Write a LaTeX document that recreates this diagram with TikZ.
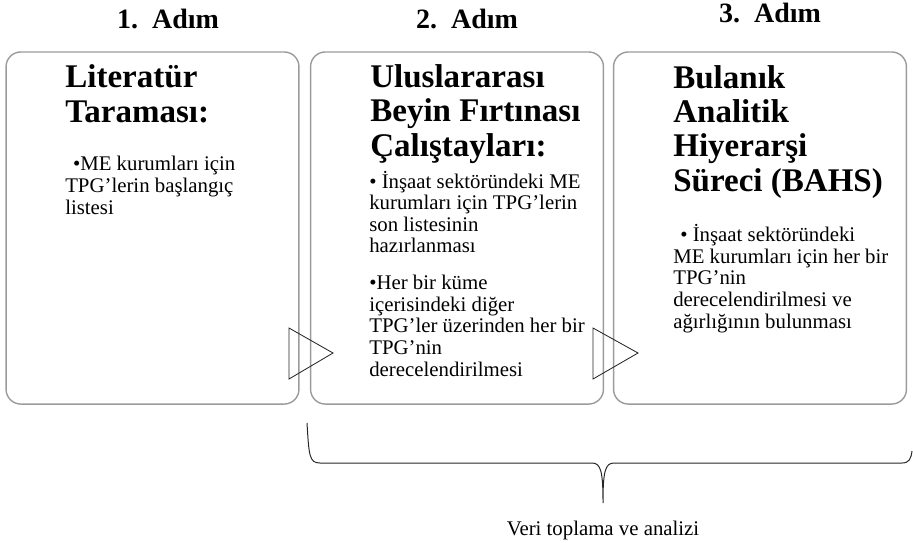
\documentclass[tikz,border=0pt]{standalone}
\usepackage{fontspec}
\setmainfont{Liberation Serif}
\usetikzlibrary{positioning}

\definecolor{boxgray}{RGB}{155,155,155}
\newcommand{\stepfont}{\bfseries\fontsize{19.9}{21}\selectfont}
\newcommand{\headfont}{\bfseries\fontsize{23.5}{24.2}\selectfont\lineskiplimit=-100pt}
\newcommand{\bodyfont}{\fontsize{14.8}{15.3}\selectfont\lineskiplimit=-100pt}

\tikzset{
  stepbox/.style={draw=boxgray, line width=1pt, rounded corners=10.5pt,
    minimum width=7.32cm, minimum height=8.8cm, inner sep=0pt},
  steptitle/.style={anchor=base, inner sep=0pt, font=\stepfont},
  % anchor at the baseline of the last line
  headtext/.style={anchor=base west, inner sep=0pt, align=left, font=\headfont},
  bodytext/.style={anchor=base west, inner sep=0pt, align=left, font=\bodyfont},
  flowtip/.style={draw=black!85, line width=0.6pt},
}

\begin{document}
\begin{tikzpicture}[x=0.025cm,y=-0.025cm]
   \useasboundingbox (0,0) rectangle (913,542);
   % three steps
   \node[stepbox] (box1) at (152.5,228) {};
   \node[stepbox] (box2) at (457,228) {};
   \node[stepbox] (box3) at (760,228) {};
   \node[steptitle] (adim1) at (168,28) {1.\ \ Adım};
   \node[steptitle] (adim2) at (467,28) {2.\ \ Adım};
   \node[steptitle] (adim3) at (770,22) {3.\ \ Adım};
   % box texts
   \node[headtext] (lit) at (65,122) {Literatür\\Taraması:};
   \node[bodytext] (litbody) at (65,214)
      {\hspace*{5.5pt}•ME kurumları için\\TPG’lerin başlangıç\\listesi};
   \node[headtext] (cal) at (370,156) {Uluslararası\\Beyin Fırtınası\\Çalıştayları:};
   \node[bodytext] (calbody) at (369,376)
      {• İnşaat sektöründeki ME\\kurumları için TPG’lerin\\son listesinin\\hazırlanması\\[11pt]
       •Her bir küme\\içerisindeki diğer\\TPG’ler üzerinden her bir\\TPG’nin\\derecelendirilmesi};
   \node[headtext] (bahs) at (673,191) {Bulanık\\Analitik\\Hiyerarşi\\Süreci (BAHS)};
   \node[bodytext] (bahsbody) at (673,328)
      {\hspace*{5pt}• İnşaat sektöründeki\\ME kurumları için her bir\\TPG’nin\\derecelendirilmesi ve\\ağırlığının bulunması};
   % arrows between the steps
   \draw[flowtip] (289,328) -- (333,353) -- (289,379) -- cycle;
   \draw[flowtip] (593,328) -- (638,353) -- (593,379) -- cycle;
   % brace
   \coordinate (bracel) at (307,423);
   \coordinate (bracetip) at (603,503);
   \coordinate (bracer) at (912,451);
   \draw[black!85, line width=0.7pt] (bracel) .. controls (309,455) and (309,463) .. (320,463)
      -- (592,463) .. controls (601,463) and (603,472) .. (bracetip)
      .. controls (603,472) and (605,463) .. (614,463)
      -- (902,463) .. controls (909,463) and (911,459) .. (bracer);
   \node[bodytext, anchor=base] (veri) at (603,535) {Veri toplama ve analizi};
\end{tikzpicture}
\end{document}
